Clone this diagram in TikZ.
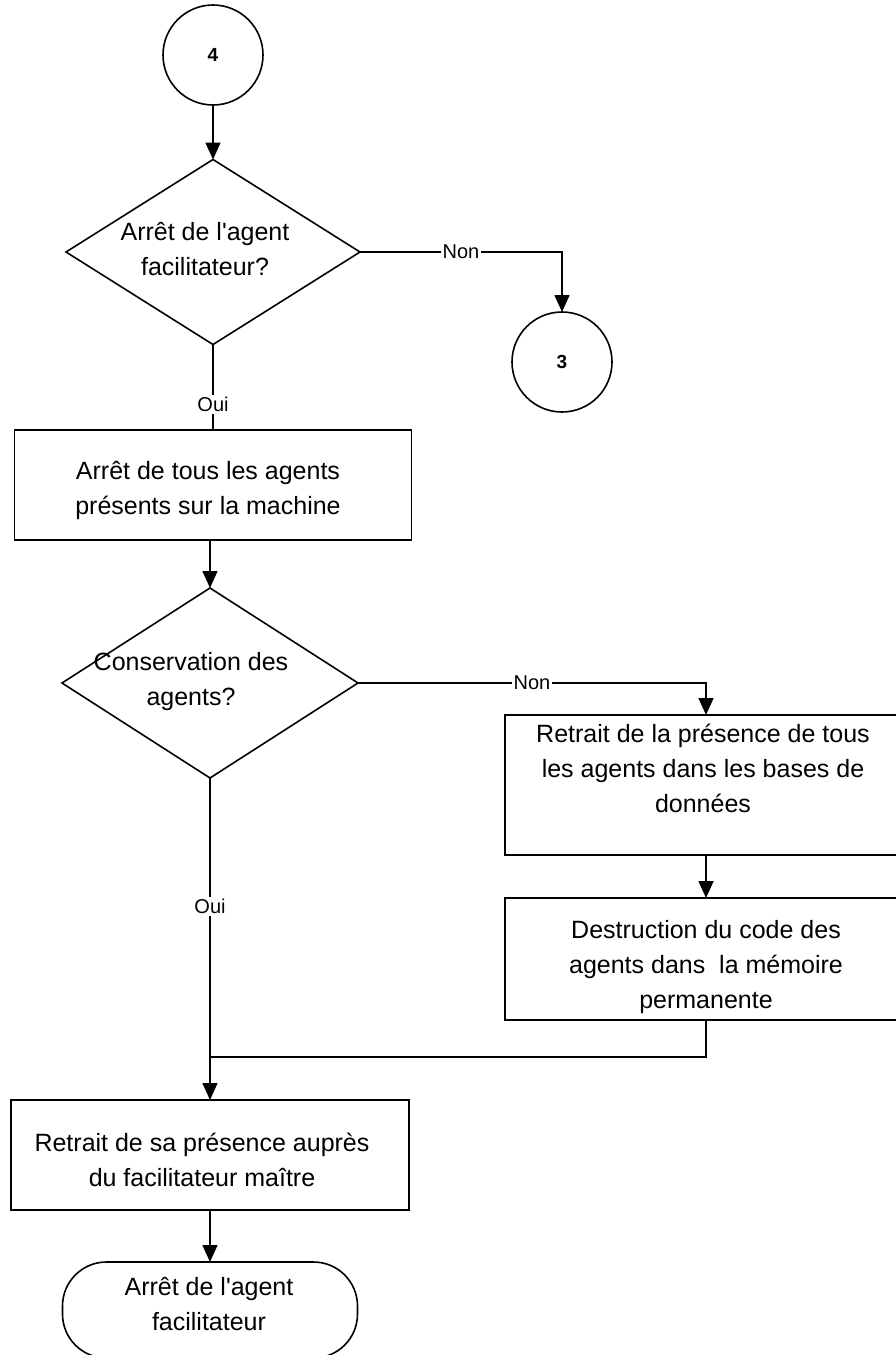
\documentclass[tikz,border=0pt]{standalone}
\usepackage{fontspec}
\newfontfamily\diagfont{Liberation Sans}
\usetikzlibrary{shapes.geometric,arrows.meta}
\begin{document}
\begin{tikzpicture}[x=1pt,y=-1pt,
  line width=1.6pt,
  every node/.style={inner sep=0pt, outer sep=0pt},
  flow/.style={-{Triangle[length=17pt,width=15pt]}},
  txt/.style={font=\diagfont\fontsize{25}{35}\selectfont, align=center},
  lbl/.style={font=\diagfont\fontsize{20}{22}\selectfont, fill=white, inner sep=2pt},
  connector/.style={draw, circle, minimum size=100pt, font=\diagfont\bfseries\fontsize{19}{22}\selectfont},
  decision/.style={draw, diamond},
  process/.style={draw, rectangle},
  terminal/.style={draw, rectangle, rounded corners=44pt}
]
\clip (0,0) rectangle (896,1355);
\fill[white] (0,0) rectangle (896,1355);

% connectors (page references)
\node[connector] (c4) at (213,55) {4};
\node[connector] (c3) at (562,362) {3};

% first decision
\node[decision, minimum width=294pt, minimum height=185pt] (d1) at (213,252) {};
\node[txt] (d1t) at (205,249) {Arrêt de l'agent\\facilitateur?};

% stop all agents
\node[process, minimum width=397pt, minimum height=110pt] (b1) at (213,485) {};
\node[txt] (b1t) at (208,490) {Arrêt de tous les agents\\présents sur la machine};

% second decision
\node[decision, minimum width=296pt, minimum height=190pt] (d2) at (210,683) {};
\node[txt] (d2t) at (191,682) {Conservation des\\agents?};

% removal from databases
\node[process, minimum width=402pt, minimum height=140pt] (b2) at (706,785) {};
\node[txt] (b2t) at (703,768) {Retrait de la présence de tous\\les agents dans les bases de\\données};

% code destruction
\node[process, minimum width=402pt, minimum height=122pt] (b3) at (706,959) {};
\node[txt] (b3t) at (706,967) {Destruction du code des\\agents dans\ \ la mémoire\\permanente};

% removal from master facilitator
\node[process, minimum width=398pt, minimum height=110pt] (b4) at (210,1155) {};
\node[txt] (b4t) at (202,1160) {Retrait de sa présence auprès\\du facilitateur maître};

% end
\node[terminal, minimum width=295pt, minimum height=96pt] (t) at (210,1310) {};
\node[txt] (tt) at (209,1304) {Arrêt de l'agent\\facilitateur};

\coordinate (j) at (210,1057);

% flow lines
\draw[flow] (c4) -- (d1.north);
\draw[flow] (d1.east) -- node[lbl]{Non} (c3 |- d1.east) -- (c3.north);
\draw (d1.south) -- node[lbl, pos=0.7]{Oui} (b1.north);
\draw[flow] (b1.south -| d2.north) -- (d2.north);
\draw[flow] (d2.east) -- node[lbl]{Non} (b2.north |- d2.east) -- (b2.north);
\draw[flow] (b2.south) -- (b3.north);
\draw (b3.south) |- (j);
\draw[flow] (d2.south) -- node[lbl, pos=0.4]{Oui} (b4.north);
\draw[flow] (b4.south) -- (t.north);
\end{tikzpicture}
\end{document}
